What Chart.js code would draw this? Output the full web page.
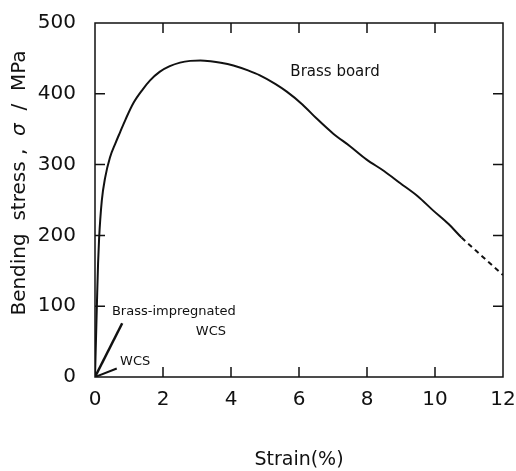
<!DOCTYPE html>
<html>
<head>
<meta charset="utf-8">
<script src="https://cdn.jsdelivr.net/npm/chart.js@4"></script>
<style>
  html, body { margin: 0; padding: 0; background: #fff; }
  #wrap { width: 516px; height: 471px; }
</style>
</head>
<body>
<div id="wrap"><canvas id="chart"></canvas></div>
<script>
// strain (%) vs bending stress (MPa)
const brassStrain = [0, 0.03, 0.06, 0.09, 0.12, 0.2, 0.3, 0.44, 0.6, 0.74, 0.9, 1.13, 1.4, 1.62, 1.9, 2.2, 2.5, 2.8, 3.1, 3.4, 3.7, 4.07, 4.5, 4.85, 5.3, 5.64, 6.1, 6.52, 7.0, 7.5, 7.99, 8.5, 8.97, 9.5, 9.95, 10.4, 10.78, 11.4, 12.0];
const brassStress = [0, 55, 110, 160, 195, 249, 282, 310, 330, 346, 364, 387, 406, 419, 431, 439, 444, 446.5, 447, 446, 444, 440, 433, 426, 414, 403, 385, 365, 344, 326, 307, 291, 274, 255, 235, 216, 197, 170, 144];
const dashFrom = 10.78;

const impStrain = [0, 0.8];
const impStress = [0, 76];
const wcsStrain = [0, 0.64];
const wcsStress = [0, 12];

const xTicks = [0, 2, 4, 6, 8, 10, 12];
const yTicks = [0, 100, 200, 300, 400, 500];

const noteText = ["Brass board", "Brass-impregnated", "WCS", "WCS"];
const noteX = [7.06, 2.32, 3.41, 1.18];
const noteY = [431, 92, 64, 22];

const FONT = "'DejaVu Sans', sans-serif";

function pts(xs, ys) {
  return xs.map((x, i) => ({ x: x, y: ys[i] }));
}

// frame, inward ticks on all four sides, curve notes and the y title
const framePlugin = {
  id: "frame",
  afterDatasetsDraw(chart) {
    const ctx = chart.ctx;
    const a = chart.chartArea;
    const xs = chart.scales.x;
    const ys = chart.scales.y;
    const tl = 10;
    ctx.save();
    ctx.strokeStyle = "#111";
    ctx.lineWidth = 1.5;
    ctx.strokeRect(a.left, a.top, a.right - a.left, a.bottom - a.top);
    ctx.beginPath();
    xTicks.slice(1, -1).forEach((v) => {
      const p = xs.getPixelForValue(v);
      ctx.moveTo(p, a.bottom);
      ctx.lineTo(p, a.bottom - tl);
      ctx.moveTo(p, a.top);
      ctx.lineTo(p, a.top + tl);
    });
    yTicks.slice(1, -1).forEach((v) => {
      const p = ys.getPixelForValue(v);
      ctx.moveTo(a.left, p);
      ctx.lineTo(a.left + tl, p);
      ctx.moveTo(a.right, p);
      ctx.lineTo(a.right - tl, p);
    });
    ctx.stroke();

    ctx.fillStyle = "#111";
    ctx.textAlign = "center";
    ctx.textBaseline = "middle";
    noteText.forEach((t, i) => {
      ctx.font = (i === 0 ? "15px " : "13px ") + FONT;
      ctx.fillText(t, xs.getPixelForValue(noteX[i]), ys.getPixelForValue(noteY[i]));
    });

    // y title, with an italic sigma
    const parts = [["Bending  stress ,  ", ""], ["σ", "italic "], ["  /  MPa", ""]];
    ctx.translate(20, 183);
    ctx.rotate(-Math.PI / 2);
    let total = 0;
    parts.forEach((p) => {
      ctx.font = p[1] + "20px " + FONT;
      total += ctx.measureText(p[0]).width;
    });
    let x = -total / 2;
    ctx.textAlign = "left";
    parts.forEach((p) => {
      ctx.font = p[1] + "20px " + FONT;
      ctx.fillText(p[0], x, 0);
      x += ctx.measureText(p[0]).width;
    });
    ctx.restore();
  },
};

new Chart(document.getElementById("chart"), {
  type: "scatter",
  data: {
    datasets: [
      {
        label: "Brass board",
        data: pts(brassStrain, brassStress),
        showLine: true,
        cubicInterpolationMode: "monotone",
        borderColor: "#111",
        borderWidth: 2,
        pointRadius: 0,
        segment: {
          borderDash: (c) => (c.p0.parsed.x >= dashFrom ? [5, 4] : undefined),
        },
      },
      {
        label: "Brass-impregnated WCS",
        data: pts(impStrain, impStress),
        showLine: true,
        borderColor: "#111",
        borderWidth: 2.5,
        pointRadius: 0,
      },
      {
        label: "WCS",
        data: pts(wcsStrain, wcsStress),
        showLine: true,
        borderColor: "#111",
        borderWidth: 2,
        pointRadius: 0,
      },
    ],
  },
  options: {
    responsive: true,
    maintainAspectRatio: false,
    animation: false,
    layout: { padding: { left: 0, right: 13, top: 20, bottom: 0 } },
    plugins: { legend: { display: false }, tooltip: { enabled: false } },
    scales: {
      x: {
        type: "linear",
        min: 0,
        max: 12,
        afterBuildTicks: (s) => { s.ticks = xTicks.map((v) => ({ value: v })); },
        afterFit: (s) => {
          s.height = 94;
          s.paddingLeft = 0;
          s.paddingRight = 0;
        },
        grid: { display: false },
        border: { display: false },
        ticks: { color: "#111", font: { family: FONT, size: 20 }, padding: 3, maxRotation: 0 },
        title: {
          display: true,
          text: "Strain(%)",
          color: "#111",
          font: { family: FONT, size: 19 },
          padding: { top: 32, bottom: 0 },
        },
      },
      y: {
        type: "linear",
        min: 0,
        max: 500,
        afterBuildTicks: (s) => { s.ticks = yTicks.map((v) => ({ value: v })); },
        afterFit: (s) => { s.width = 95; },
        grid: { display: false },
        border: { display: false },
        ticks: { color: "#111", font: { family: FONT, size: 20 }, padding: 11 },
        title: { display: false },
      },
    },
  },
  plugins: [framePlugin],
});
</script>
</body>
</html>
